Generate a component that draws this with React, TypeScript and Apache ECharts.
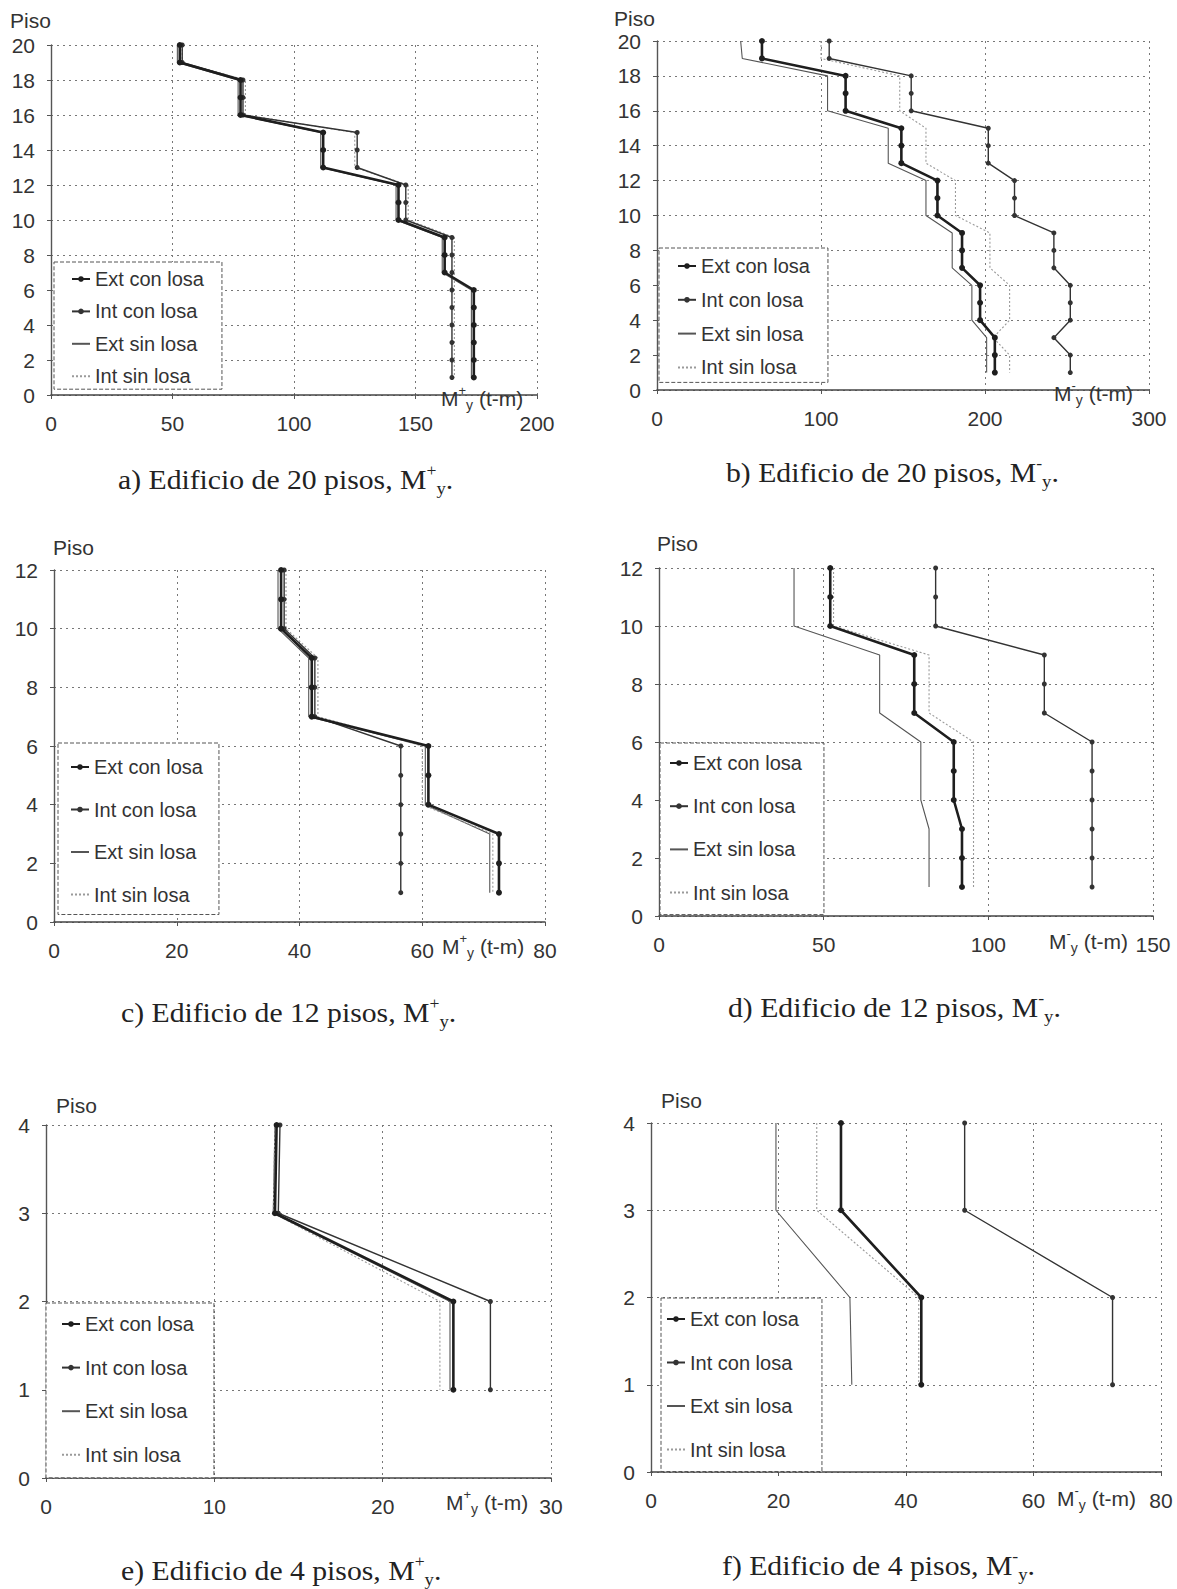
import React, { useEffect, useRef } from 'react';
import * as echarts from 'echarts';

const SERIES_NAMES = ['Ext con losa', 'Int con losa', 'Ext sin losa', 'Int sin losa'];

const floors20 = [20, 19, 18, 17, 16, 15, 14, 13, 12, 11, 10, 9, 8, 7, 6, 5, 4, 3, 2, 1];
const floors12 = [12, 11, 10, 9, 8, 7, 6, 5, 4, 3, 2, 1];
const floors4 = [4, 3, 2, 1];

// a) Edificio de 20 pisos, M+y
const extConA = [53, 53, 78, 78, 78, 112, 112, 112, 143, 143, 143, 162, 162, 162, 174, 174, 174, 174, 174, 174];
const intConA = [54, 54, 79, 79, 79, 126, 126, 126, 146, 146, 146, 165, 165, 165, 165, 165, 165, 165, 165, 165];
const extSinA = [52, 52, 77, 77, 77, 111, 111, 111, 142, 142, 142, 161, 161, 161, 173, 173, 173, 173, 173, 173];
const intSinA = [54, 54, 80, 80, 80, 125, 125, 125, 147, 147, 147, 166, 166, 166, 166, 166, 166, 166, 166, 166];

// b) Edificio de 20 pisos, M-y
const extConB = [64, 64, 115, 115, 115, 149, 149, 149, 171, 171, 171, 186, 186, 186, 197, 197, 197, 206, 206, 206];
const intConB = [105, 105, 155, 155, 155, 202, 202, 202, 218, 218, 218, 242, 242, 242, 252, 252, 252, 242, 252, 252];
const extSinB = [51, 52, 104, 104, 104, 141, 141, 141, 164, 164, 164, 180, 180, 180, 192, 192, 192, 201, 201, 201];
const intSinB = [100, 100, 148, 148, 148, 164, 164, 164, 182, 182, 182, 203, 203, 203, 215, 215, 215, 205, 215, 215];

// c) Edificio de 12 pisos, M+y
const extConC = [37, 37, 37, 42, 42, 42, 61, 61, 61, 72.5, 72.5, 72.5];
const intConC = [37.5, 37.5, 37.5, 42.5, 42.5, 42.5, 56.5, 56.5, 56.5, 56.5, 56.5, 56.5];
const extSinC = [36.5, 36.5, 36.5, 41.5, 41.5, 41.5, 60.5, 60.5, 60.5, 71, 71, 71];
const intSinC = [37.8, 37.8, 37.8, 43, 43, 43, 60, 60, 60, 71.5, 71.5, 71.5];

// d) Edificio de 12 pisos, M-y
const extConD = [52, 52, 52, 77.5, 77.5, 77.5, 89.5, 89.5, 89.5, 92, 92, 92];
const intConD = [84, 84, 84, 117, 117, 117, 131.5, 131.5, 131.5, 131.5, 131.5, 131.5];
const extSinD = [41, 41, 41, 67, 67, 67, 79.5, 79.5, 79.5, 82, 82, 82];
const intSinD = [53, 53, 53, 82, 82, 82, 95.5, 95.5, 95.5, 95.5, 95.5, 95.5];

// e) Edificio de 4 pisos, M+y
const extConE = [13.7, 13.6, 24.2, 24.2];
const intConE = [13.9, 13.8, 26.4, 26.4];
const extSinE = [13.6, 13.5, 24.0, 24.0];
const intSinE = [13.6, 13.5, 23.4, 23.4];

// f) Edificio de 4 pisos, M-y
const extConF = [29.8, 29.8, 42.4, 42.4];
const intConF = [49.2, 49.2, 72.4, 72.4];
const extSinF = [19.6, 19.6, 31.2, 31.5];
const intSinF = [26, 26, 42, 42];

const xMaxes = [200, 300, 80, 150, 30, 80];
const xSteps = [50, 100, 20, 50, 10, 20];
const yMaxes = [20, 20, 12, 12, 4, 4];
const ySteps = [2, 2, 2, 2, 1, 1];

const captionPrefixes = [
  'a) Edificio de 20 pisos, M',
  'b) Edificio de 20 pisos, M',
  'c) Edificio de 12 pisos, M',
  'd) Edificio de 12 pisos, M',
  'e) Edificio de 4 pisos, M',
  'f) Edificio de 4 pisos, M',
];
const momentSigns = ['+', '-', '+', '-', '+', '-'];

const panels = [
  { floors: floors20, values: [extConA, intConA, extSinA, intSinA] },
  { floors: floors20, values: [extConB, intConB, extSinB, intSinB] },
  { floors: floors12, values: [extConC, intConC, extSinC, intSinC] },
  { floors: floors12, values: [extConD, intConD, extSinD, intSinD] },
  { floors: floors4, values: [extConE, intConE, extSinE, intSinE] },
  { floors: floors4, values: [extConF, intConF, extSinF, intSinF] },
];

// layout (pixels)
const layouts = [
  { grid: { left: 51, top: 45, width: 486, height: 350 }, legend: { left: 54, top: 262, padding: [7, 18, 3, 17], itemGap: 12.4 }, piso: [10, 20], caption: [118, 480], axisName: [441, 398] },
  { grid: { left: 657, top: 41, width: 492, height: 349 }, legend: { left: 659, top: 248, padding: [8, 18, 5, 18], itemGap: 13.8 }, piso: [614, 18], caption: [726, 473], axisName: [1054, 393] },
  { grid: { left: 54, top: 570, width: 491, height: 352 }, legend: { left: 58, top: 743, padding: [14, 16, 10, 12], itemGap: 22.5 }, piso: [53, 547], caption: [121, 1013], axisName: [442, 946] },
  { grid: { left: 659, top: 568, width: 494, height: 348 }, legend: { left: 660, top: 743, padding: [10, 22, 12, 9], itemGap: 23.2 }, piso: [657, 543], caption: [728, 1008], axisName: [1049, 941] },
  { grid: { left: 46, top: 1125, width: 505, height: 353 }, legend: { left: 46, top: 1303, padding: [11, 20, 13, 15], itemGap: 23.6 }, piso: [56, 1105], caption: [121, 1571], axisName: [446, 1502] },
  { grid: { left: 651, top: 1123, width: 510, height: 349 }, legend: { left: 661, top: 1298, padding: [11, 23, 12, 5], itemGap: 23.5 }, piso: [661, 1100], caption: [722, 1566], axisName: [1057, 1498] },
];

const seriesStyles = [
  { color: '#1e1e1e', width: 2.6, symbol: 'circle', symbolSize: 6, type: 'solid' as any, z: 4 },
  { color: '#333333', width: 1.4, symbol: 'circle', symbolSize: 5, type: 'solid' as any, z: 3 },
  { color: '#555555', width: 1.1, symbol: 'none', symbolSize: 0, type: 'solid' as any, z: 2 },
  { color: '#9a9a9a', width: 1.1, symbol: 'none', symbolSize: 0, type: [2, 2] as any, z: 2 },
];

const SANS = 'Liberation Sans, Arial, sans-serif';
const SERIF = 'Liberation Serif, Times New Roman, serif';

function buildOption() {
  const grid = layouts.map((l) => ({ ...l.grid }));
  const xAxis = panels.map((_, i) => ({
    type: 'value',
    gridIndex: i,
    min: 0,
    max: xMaxes[i],
    interval: xSteps[i],
    axisLine: { show: true, onZero: false, lineStyle: { color: '#444', width: 1.6 } },
    axisTick: { show: true, length: 4, lineStyle: { color: '#555' } },
    axisLabel: { margin: 18, fontSize: 21, color: '#333', fontFamily: SANS },
    splitLine: { show: true, lineStyle: { type: [2, 4], color: '#777', width: 1 } },
  }));
  const yAxis = panels.map((_, i) => ({
    type: 'value',
    gridIndex: i,
    min: 0,
    max: yMaxes[i],
    interval: ySteps[i],
    axisLine: { show: true, onZero: false, lineStyle: { color: '#555', width: 1.4 } },
    axisTick: { show: true, length: 4, lineStyle: { color: '#555' } },
    axisLabel: { margin: 16, fontSize: 21, color: '#333', fontFamily: SANS },
    splitLine: { show: true, lineStyle: { type: [2, 4], color: '#777', width: 1 } },
  }));
  const series: any[] = [];
  panels.forEach((p, i) => {
    p.values.forEach((vals, j) => {
      const st = seriesStyles[j];
      series.push({
        type: 'line',
        name: SERIES_NAMES[j],
        xAxisIndex: i,
        yAxisIndex: i,
        data: p.floors.map((f, k) => [vals[k], f]),
        symbol: st.symbol,
        symbolSize: st.symbolSize,
        showSymbol: st.symbol !== 'none',
        lineStyle: { color: st.color, width: st.width, type: st.type },
        itemStyle: { color: st.color },
        z: st.z,
        silent: true,
      });
    });
  });
  const legendData = SERIES_NAMES.map((name, j) =>
    seriesStyles[j].symbol === 'none'
      ? { name, itemStyle: { color: 'rgba(0,0,0,0)', opacity: 0, borderWidth: 0 } }
      : { name }
  );
  const legend = layouts.map((l) => ({
    left: l.legend.left,
    top: l.legend.top,
    orient: 'vertical',
    padding: l.legend.padding,
    itemGap: l.legend.itemGap,
    itemWidth: 18,
    itemHeight: 7,
    data: legendData,
    selectedMode: false,
    backgroundColor: '#fff',
    borderColor: '#555',
    borderWidth: 1,
    borderType: 'dashed',
    z: 10,
    textStyle: { fontSize: 20, lineHeight: 20, fontFamily: SANS, color: '#333' },
  }));
  const graphic: any[] = [];
  layouts.forEach((l, i) => {
    graphic.push({
      type: 'text',
      x: l.piso[0],
      y: l.piso[1],
      z: 100,
      style: {
        text: 'Piso',
        fontSize: 21,
        fontFamily: SANS,
        fill: '#333',
        textAlign: 'left',
        align: 'left',
        textVerticalAlign: 'middle',
        verticalAlign: 'middle',
      },
    });
    graphic.push({
      type: 'text',
      x: l.axisName[0],
      y: l.axisName[1],
      z: 100,
      style: {
        text: 'M{sup|' + momentSigns[i] + '}{sub|y} (t-m)',
        fontSize: 21,
        lineHeight: 28,
        fontFamily: SANS,
        fill: '#333',
        textAlign: 'left',
        align: 'left',
        textVerticalAlign: 'middle',
        verticalAlign: 'middle',
        rich: {
          sup: { fontSize: 13, lineHeight: 13, verticalAlign: 'top', fontFamily: SANS, fill: '#333' },
          sub: { fontSize: 14, lineHeight: 14, verticalAlign: 'bottom', fontFamily: SANS, fill: '#333' },
        },
      },
    });
    graphic.push({
      type: 'text',
      x: l.caption[0],
      y: l.caption[1],
      scaleX: 1.1,
      z: 100,
      style: {
        text: captionPrefixes[i] + '{sup|' + momentSigns[i] + '}{sub|y}.',
        fontSize: 27,
        lineHeight: 34,
        fontFamily: SERIF,
        fill: '#222',
        textAlign: 'left',
        align: 'left',
        textVerticalAlign: 'middle',
        verticalAlign: 'middle',
        rich: {
          sup: { fontSize: 16, lineHeight: 16, verticalAlign: 'top', fontFamily: SERIF, fill: '#222' },
          sub: { fontSize: 17, lineHeight: 17, verticalAlign: 'bottom', fontFamily: SERIF, fill: '#222' },
        },
      },
    });
  });
  return {
    animation: false,
    backgroundColor: '#fff',
    grid,
    xAxis,
    yAxis,
    legend,
    series,
    graphic,
  };
}

export default function App() {
  const ref = useRef<HTMLDivElement>(null);
  useEffect(() => {
    if (!ref.current) return;
    const chart = echarts.init(ref.current, undefined, { renderer: 'svg' });
    chart.setOption(buildOption() as any);
    return () => {
      chart.dispose();
    };
  }, []);
  return (
    <div
      ref={ref}
      style={{ position: 'absolute', left: 0, top: 0, width: 1177, height: 1589, background: '#fff' }}
    />
  );
}
